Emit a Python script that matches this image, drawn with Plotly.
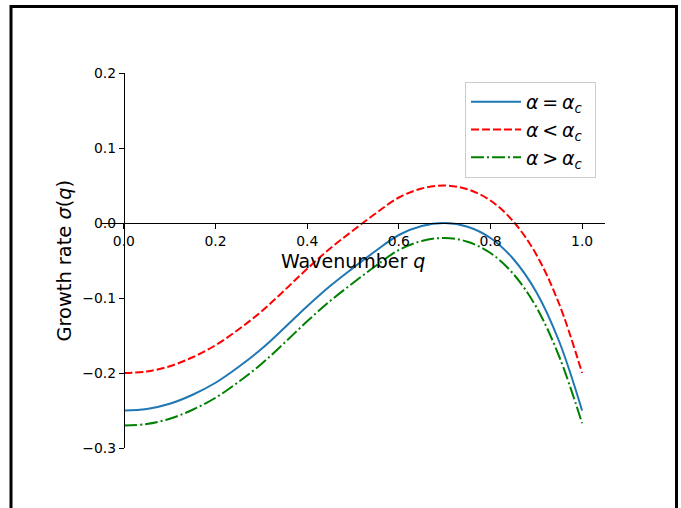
import plotly.graph_objects as go

# ---- data ----
q = [0.00, 0.05, 0.10, 0.15, 0.20, 0.25, 0.30, 0.35, 0.40, 0.45, 0.50,
     0.55, 0.60, 0.65, 0.70, 0.75, 0.80, 0.85, 0.90, 0.95, 1.00]
sigma_crit = [-0.250, -0.248, -0.241, -0.229, -0.213, -0.192, -0.168, -0.140, -0.111, -0.084, -0.060,
              -0.037, -0.016, -0.004, 0.000, -0.005, -0.020, -0.048, -0.092, -0.158, -0.250]
sigma_below = [-0.200, -0.198, -0.191, -0.179, -0.163, -0.142, -0.118, -0.090, -0.061, -0.034, -0.010,
               0.013, 0.034, 0.046, 0.050, 0.045, 0.030, 0.002, -0.042, -0.108, -0.200]
sigma_above = [-0.270, -0.268, -0.261, -0.249, -0.233, -0.212, -0.188, -0.160, -0.131, -0.104, -0.080,
               -0.057, -0.036, -0.024, -0.020, -0.025, -0.040, -0.068, -0.112, -0.178, -0.267]

TS = "\u2009"  # thin space, like mathtext relation spacing
series_names = ["<i>α</i>" + TS + "=" + TS + "<i>α</i><sub><i>c</i></sub>" + TS + TS,
                "<i>α</i>" + TS + "&lt;" + TS + "<i>α</i><sub><i>c</i></sub>" + TS + TS,
                "<i>α</i>" + TS + "&gt;" + TS + "<i>α</i><sub><i>c</i></sub>" + TS + TS]

x_tickvals = [0.0, 0.2, 0.4, 0.6, 0.8, 1.0]
x_ticktext = ["0.0", "0.2", "0.4", "0.6", "0.8", "1.0"]
y_tickvals = [-0.3, -0.2, -0.1, 0.0, 0.1, 0.2]
y_ticktext = ["−0.3", "−0.2", "−0.1", "0.0", "0.1", "0.2"]

x_label = "Wavenumber <i>q</i>"
y_label = "Growth rate <i>σ</i>(<i>q</i>)"

# ---- layout geometry ----
W, H = 681, 508
px_left, px_right = 101, 605
px_top, px_bottom = 73, 448
x_range = [-0.05, 1.05]
y_range = [-0.3, 0.2]

xdom = [px_left / W, px_right / W]
ydom = [(H - px_bottom) / H, (H - px_top) / H]
# positions of the spines at data zero
y0_paper = ydom[0] + (0 - y_range[0]) / (y_range[1] - y_range[0]) * (ydom[1] - ydom[0])
x0_paper = xdom[0] + (0 - x_range[0]) / (x_range[1] - x_range[0]) * (xdom[1] - xdom[0])

FONT = "DejaVu Sans"

fig = go.Figure()
fig.add_trace(go.Scatter(x=q, y=sigma_crit, mode="lines", name=series_names[0],
                         line=dict(color="#1f77b4", width=2, shape="spline")))
fig.add_trace(go.Scatter(x=q, y=sigma_below, mode="lines", name=series_names[1],
                         line=dict(color="red", width=2, dash="8px,3px", shape="spline")))
fig.add_trace(go.Scatter(x=q, y=sigma_above, mode="lines", name=series_names[2],
                         line=dict(color="green", width=2, dash="13px,3px,2px,3px", shape="spline")))

axis_common = dict(showgrid=False, zeroline=False, showline=True, linecolor="black", linewidth=1.1,
                   ticks="outside", ticklen=5, tickwidth=1.1, tickcolor="black",
                   tickfont=dict(family=FONT, size=13.9, color="black"), anchor="free")

fig.update_layout(
    width=W, height=H,
    margin=dict(l=0, r=0, t=0, b=0, autoexpand=False),
    paper_bgcolor="white", plot_bgcolor="white",
    font=dict(family=FONT, color="black"),
    xaxis=dict(domain=xdom, range=x_range, position=y0_paper, side="bottom",
               tickvals=x_tickvals, ticktext=x_ticktext, **axis_common),
    yaxis=dict(domain=ydom, range=y_range, position=x0_paper, side="left",
               tickvals=y_tickvals, ticktext=y_ticktext, **axis_common),
    showlegend=True,
    legend=dict(x=465 / W, y=(H - 82) / H, xanchor="left", yanchor="top",
                itemwidth=50,
                bgcolor="rgba(255,255,255,0.8)", bordercolor="#cccccc", borderwidth=1,
                font=dict(family=FONT, size=19, color="black")),
    shapes=[dict(type="rect", xref="paper", yref="paper",
                 x0=11 / W, x1=676.5 / W, y0=-0.2, y1=(H - 6.5) / H,
                 line=dict(color="black", width=3), fillcolor="rgba(0,0,0,0)", layer="above")],
    annotations=[
        dict(text=x_label, xref="paper", yref="paper", x=353 / W, y=(H - 261) / H,
             xanchor="center", yanchor="middle", showarrow=False,
             font=dict(family=FONT, size=19, color="black")),
        dict(text=y_label, xref="paper", yref="paper", x=64 / W, y=(H - 260.5) / H,
             xanchor="center", yanchor="middle", showarrow=False, textangle=-90,
             font=dict(family=FONT, size=19.4, color="black")),
    ],
)

fig.write_html("out.html", config={"displayModeBar": False})
